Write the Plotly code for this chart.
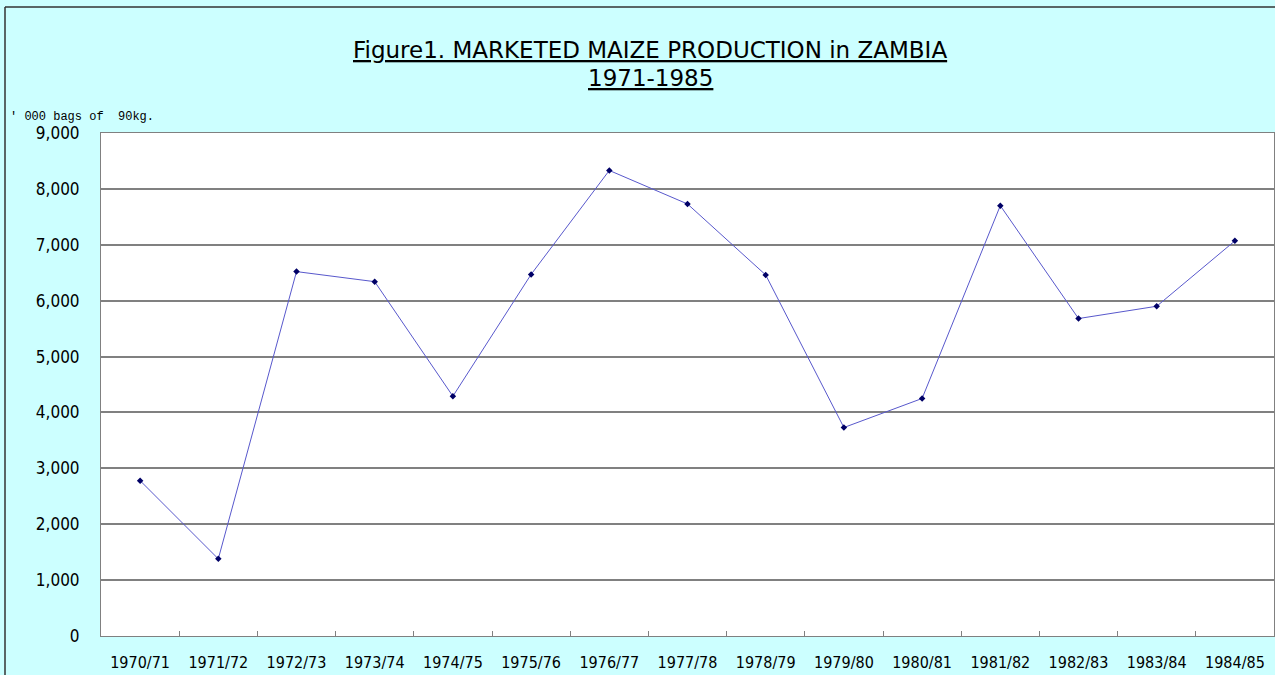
import plotly.graph_objects as go

seasons = ["1970/71", "1971/72", "1972/73", "1973/74", "1974/75", "1975/76", "1976/77",
           "1977/78", "1978/79", "1979/80", "1980/81", "1981/82", "1982/83", "1983/84", "1984/85"]
maize_bags = [2780, 1380, 6520, 6340, 4290, 6470, 8330, 7730, 6460, 3730, 4250, 7700, 5680, 5900, 7070]
y_ticks = [0, 1000, 2000, 3000, 4000, 5000, 6000, 7000, 8000, 9000]
y_tick_text = ["0", "1,000", "2,000", "3,000", "4,000", "5,000", "6,000", "7,000", "8,000", "9,000"]
title_lines = ["Figure1. MARKETED MAIZE PRODUCTION in ZAMBIA", "1971-1985"]

FONT = "DejaVu Sans Condensed"

fig = go.Figure()
fig.add_trace(go.Scatter(
    x=seasons, y=maize_bags, mode="lines+markers",
    line=dict(color="#5858CC", width=1),
    marker=dict(color="#000066", size=5, symbol="diamond"),
    showlegend=False,
))

W, H = 1275, 675
L, R, T, B = 101, 1274, 133, 636
pw, ph = R - L, B - T


def py(pix):
    return 1 + (T - pix) / ph


def px(pix):
    return (pix - L) / pw


annots = [dict(
    text="' 000 bags of  90kg.", xref="paper", yref="paper",
    x=px(8), y=py(117), xanchor="left", yanchor="middle",
    showarrow=False, font=dict(family="Liberation Mono", size=12, color="#000000"),
)]
for txt, ypix in zip(title_lines, [50, 78]):
    annots.append(dict(
        text="<u>" + txt + "</u>", xref="paper", yref="paper",
        x=px(650), y=py(ypix), xanchor="center", yanchor="middle",
        showarrow=False, font=dict(family="DejaVu Sans", size=23, color="#000000"),
    ))

fig.update_layout(
    width=W, height=H,
    margin=dict(l=L, r=W - R, t=T, b=H - B, autoexpand=False),
    paper_bgcolor="#CCFFFF",
    plot_bgcolor="#FFFFFF",
    font=dict(family=FONT, size=16, color="#000000"),
    xaxis=dict(
        type="category", range=[-0.5, len(seasons) - 0.5],
        showgrid=False, tickson="boundaries", ticks="inside",
        ticklen=5, tickcolor="#808080", showline=True, linecolor="#808080",
        linewidth=1, mirror=True, tickfont=dict(size=16), ticklabelstandoff=12,
        fixedrange=True,
    ),
    yaxis=dict(
        range=[0, 9000], tickvals=y_ticks, ticktext=y_tick_text,
        showgrid=True, gridcolor="#808080", gridwidth=1.5,
        showline=True, linecolor="#808080", linewidth=1, mirror=True,
        ticks="", ticklabelstandoff=17, tickfont=dict(size=17), zeroline=False,
        fixedrange=True,
    ),
    annotations=annots,
    shapes=[
        dict(type="line", xref="paper", yref="paper",
             x0=px(5), x1=px(5), y0=-1, y1=py(7),
             line=dict(color="#333333", width=1.5)),
        dict(type="line", xref="paper", yref="paper",
             x0=px(5), x1=2, y0=py(7), y1=py(7),
             line=dict(color="#333333", width=1.5)),
    ],
)

fig.write_html(
    "out.html",
    config={"displayModeBar": False},
    post_script="document.body.style.margin='0';document.body.style.overflow='hidden';",
)
